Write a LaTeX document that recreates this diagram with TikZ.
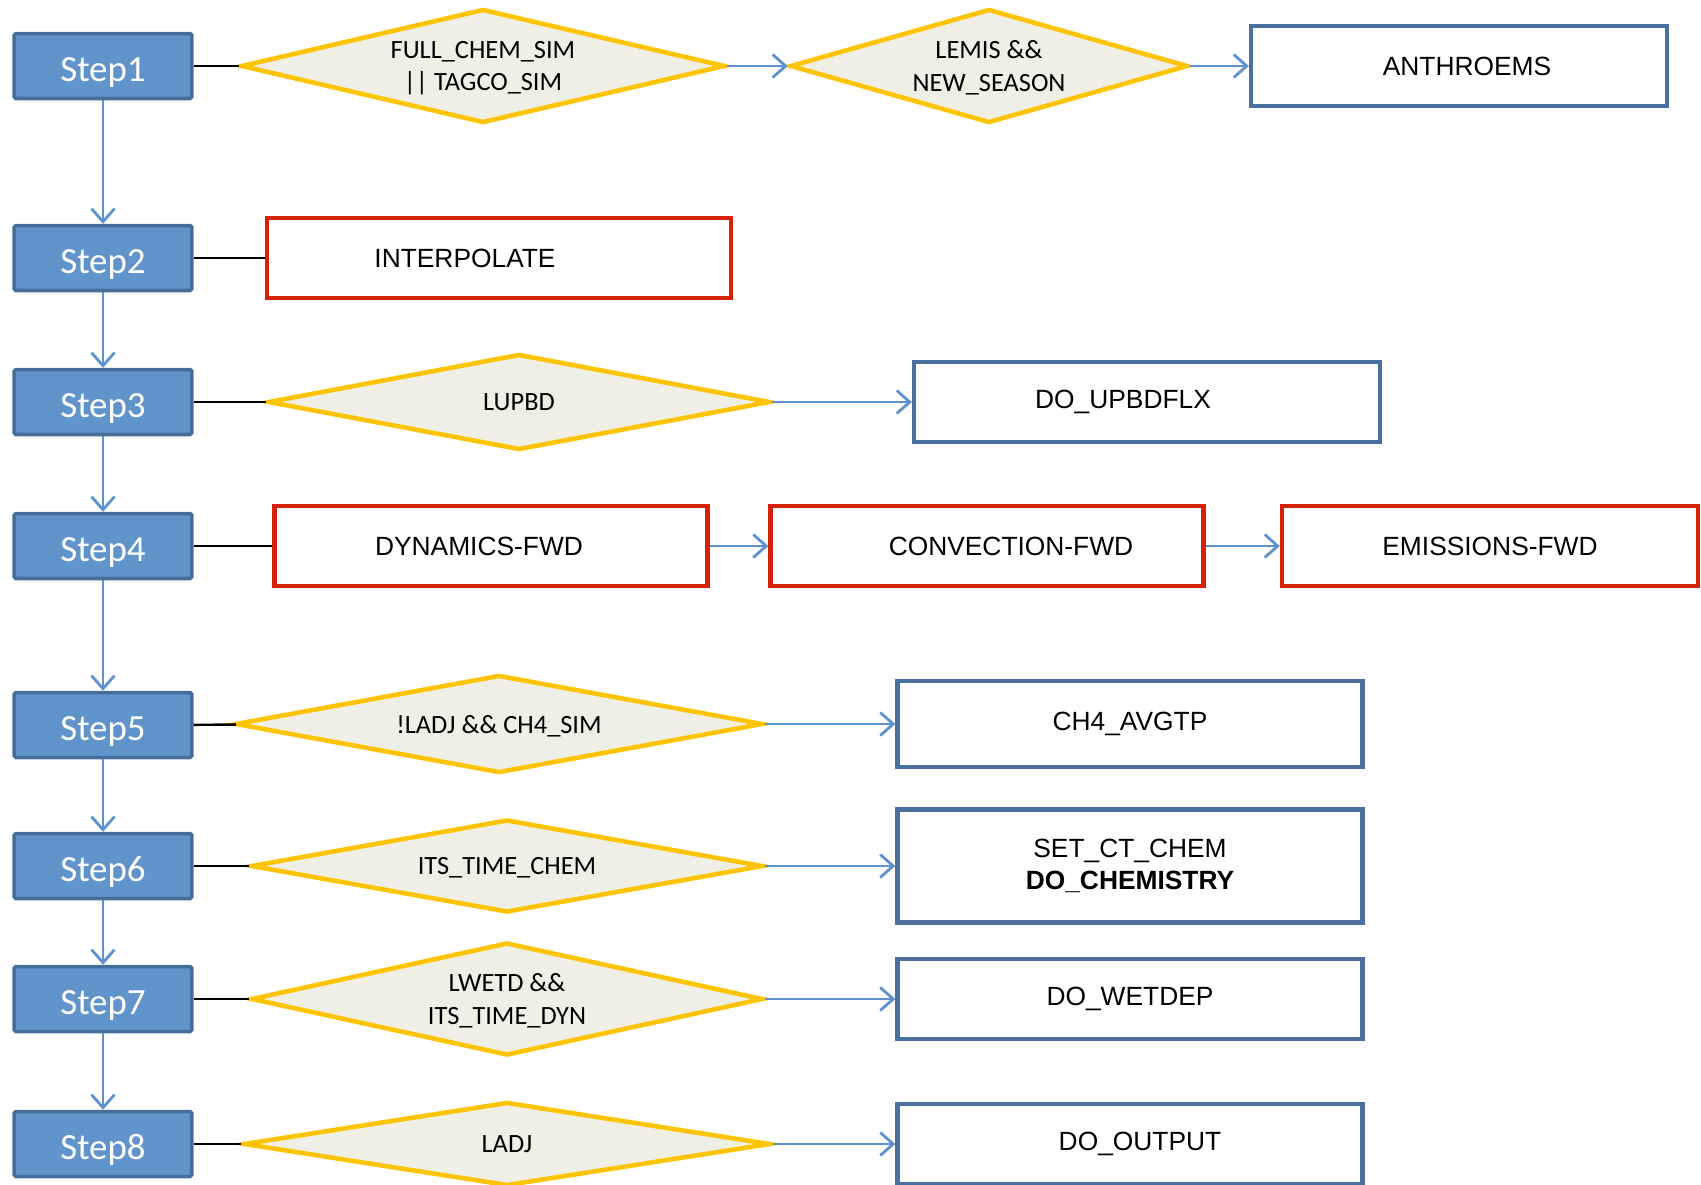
\documentclass[tikz,border=0pt]{standalone}
\usepackage{fontspec}
\setmainfont{Liberation Sans}
\newfontfamily\calibri{Carlito}
\usepackage{tikz}
\usetikzlibrary{arrows.meta,shapes.geometric}
\definecolor{stepfill}{RGB}{96,148,203}
\definecolor{stepline}{RGB}{70,110,155}
\definecolor{condfill}{RGB}{239,239,229}
\definecolor{condline}{RGB}{255,196,0}
\definecolor{routline}{RGB}{74,112,160}
\definecolor{fwdline}{RGB}{212,34,8}
\definecolor{flowblue}{RGB}{94,146,204}
% text pushed sideways inside a box
\newcommand{\nudged}[2]{\makebox[0pt]{\hspace*{#1}\hspace*{#1}#2}}
\tikzset{
  stepbox/.style  = {draw=stepline, fill=stepfill, line width=2pt, rounded corners=1pt,
                     minimum width=3.56cm, minimum height=1.3cm, text=white,
                     text height=0.6cm, text depth=0pt,
                     font=\calibri\fontsize{21}{25}\selectfont},
  cond/.style     = {diamond, draw=condline, fill=condfill, line width=2.6pt, inner sep=0pt,
                     aspect=4, align=center, text depth=-0.08cm,
                     font=\calibri\fontsize{15}{18.5}\selectfont},
  rout/.style     = {draw=routline, line width=2.5pt, minimum height=1.6cm, align=center,
                     font=\fontsize{15}{18.5}\selectfont},
  fwd/.style      = {draw=fwdline, line width=2.5pt, minimum height=1.6cm,
                     font=\fontsize{15}{18.5}\selectfont},
  flow/.style     = {-{Straight Barb[length=2.6mm,width=4.6mm,line width=1.6pt]}, flowblue, line width=1.5pt},
  tie/.style      = {black, line width=1.4pt}
}
\begin{document}
\begin{tikzpicture}[x=0.02cm, y=-0.02cm]
  \useasboundingbox (0,0) rectangle (1701,1184);
  % steps
  \node[stepbox] (s1) at (103,66)   {Step1};
  \node[stepbox] (s2) at (103,258)  {Step2};
  \node[stepbox] (s3) at (103,402)  {Step3};
  \node[stepbox] (s4) at (103,546)  {Step4};
  \node[stepbox] (s5) at (103,725)  {Step5};
  \node[stepbox] (s6) at (103,866)  {Step6};
  \node[stepbox] (s7) at (103,999)  {Step7};
  \node[stepbox] (s8) at (103,1144) {Step8};
  \foreach \a/\b in {s1/s2,s2/s3,s3/s4,s4/s5,s5/s6,s6/s7,s7/s8}
    \draw[flow] (\a) -- (\b);

  % step 1
  \node[cond, minimum width=9.68cm, minimum height=2.28cm] (fullchem) at (483,66)
        {FULL\_CHEM\_SIM\\|| TAGCO\_SIM};
  \node[cond, aspect=3.5, minimum width=7.96cm, minimum height=2.28cm] (lemis) at (989,66)
        {LEMIS \&\&\\NEW\_SEASON};
  \node[rout, minimum width=8.32cm] (anthro) at (1459,66) {\nudged{0.16cm}{ANTHROEMS}};
  \draw[tie]  (s1) -- (fullchem);
  \draw[flow] (fullchem) -- (lemis);
  \draw[flow] (lemis) -- (anthro);

  % step 2
  \node[fwd, minimum width=9.28cm] (interp) at (499,258) {\nudged{-0.68cm}{INTERPOLATE}};
  \draw[tie] (s2) -- (interp);

  % step 3
  \node[cond, minimum width=10.04cm, minimum height=1.92cm] (lupbd) at (519,402) {LUPBD};
  \node[rout, minimum width=9.32cm] (upbd) at (1147,402) {\nudged{-0.48cm}{DO\_UPBDFLX}};
  \draw[tie]  (s3) -- (lupbd);
  \draw[flow] (lupbd) -- (upbd);

  % step 4
  \node[fwd, minimum width=8.66cm] (dyn)  at (491,546)  {\nudged{-0.24cm}{DYNAMICS-FWD}};
  \node[fwd, minimum width=8.66cm] (conv) at (987,546)  {\nudged{0.48cm}{CONVECTION-FWD}};
  \node[fwd, minimum width=8.32cm] (emis) at (1490,546) {EMISSIONS-FWD};
  \draw[tie]  (s4) -- (dyn);
  \draw[flow] (dyn) -- (conv);
  \draw[flow] (conv) -- (emis);

  % step 5
  \node[cond, minimum width=10.56cm, minimum height=1.96cm] (ladjch4) at (499,724) {!LADJ \&\& CH4\_SIM};
  \node[rout, minimum width=9.3cm, minimum height=1.72cm] (ch4) at (1130,724) {CH4\_AVGTP};
  \draw[tie]  (s5) -- (ladjch4);
  \draw[flow] (ladjch4) -- (ch4);

  % step 6
  \node[cond, minimum width=10.24cm, minimum height=1.86cm] (timechem) at (507,866) {ITS\_TIME\_CHEM};
  \node[rout, minimum width=9.3cm, minimum height=2.26cm] (chem) at (1130,866)
        {SET\_CT\_CHEM\\\textbf{DO\_CHEMISTRY}};
  \draw[tie]  (s6) -- (timechem);
  \draw[flow] (timechem) -- (chem);

  % step 7
  \node[cond, minimum width=10.24cm, minimum height=2.26cm] (lwetd) at (507,999)
        {LWETD \&\&\\ITS\_TIME\_DYN};
  \node[rout, minimum width=9.3cm] (wetdep) at (1130,999) {DO\_WETDEP};
  \draw[tie]  (s7) -- (lwetd);
  \draw[flow] (lwetd) -- (wetdep);

  % step 8
  \node[cond, minimum width=10.54cm, minimum height=1.68cm] (ladj) at (507,1144) {LADJ};
  \node[rout, minimum width=9.3cm] (output) at (1130,1144) {\nudged{0.2cm}{DO\_OUTPUT}};
  \draw[tie]  (s8) -- (ladj);
  \draw[flow] (ladj) -- (output);
\end{tikzpicture}
\end{document}
